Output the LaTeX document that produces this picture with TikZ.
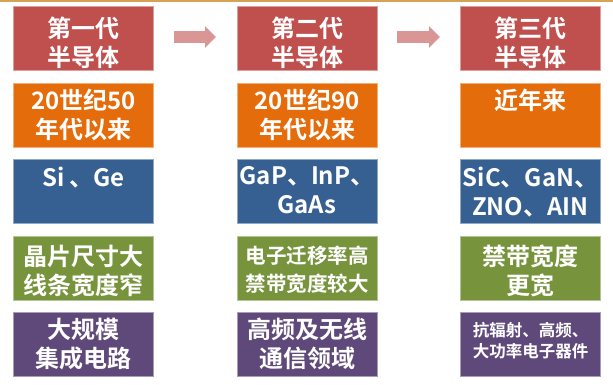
\documentclass[tikz,border=0pt]{standalone}
\usepackage{fontspec}
\setmainfont{Noto Sans CJK SC}[BoldFont={Noto Sans CJK SC Bold}]
\definecolor{cred}{HTML}{C0504D}
\definecolor{corange}{HTML}{E46C0A}
\definecolor{cblue}{HTML}{376092}
\definecolor{cgreen}{HTML}{77933C}
\definecolor{cpurple}{HTML}{5F497A}
\definecolor{carrow}{HTML}{D99694}
\definecolor{ctop}{HTML}{D6A256}
\usetikzlibrary{arrows.meta}
\tikzset{
  box/.style={draw=#1!55!white, fill=#1, line width=0.8pt, minimum width=140pt, minimum height=64pt, inner sep=0pt},
  txt/.style={text=white, font=\bfseries\fontsize{24}{29}\selectfont, align=center, anchor=north, inner sep=0pt},
  txtm/.style={txt, font=\bfseries\fontsize{20.5}{28}\selectfont},
  txts/.style={txt, font=\bfseries\fontsize{16.5}{21}\selectfont},
  flow/.style={carrow, line width=12pt, -{Triangle[length=11pt,width=21pt]}},
}
\begin{document}
\begin{tikzpicture}[x=1pt,y=-1pt]
\useasboundingbox (0,0) rectangle (613,385);
\fill[ctop] (0,0) rectangle (613,2.5);
\foreach \c/\x in {a/83.5,b/307,c/530.5}{
  \node[box=cred]    (\c1) at (\x,38)  {};
  \node[box=corange] (\c2) at (\x,115) {};
  \node[box=cblue]   (\c3) at (\x,191) {};
  \node[box=cgreen]  (\c4) at (\x,268) {};
  \node[box=cpurple] (\c5) at (\x,344.5) {};
}
% column 1
\node[txt] (ta1) at ([yshift=-11pt]a1.north) {第一代\\半导体};
\node[txt] (ta2) at ([yshift=-6pt]a2.north) {20世纪50\\年代以来};
\node[txt] (ta3) at ([yshift=-8pt]a3.north) {Si 、Ge};
\node[txt] (ta4) at ([yshift=-9pt]a4.north) {晶片尺寸大\\线条宽度窄};
\node[txt] (ta5) at ([yshift=-6pt]a5.north) {大规模\\集成电路};
% column 2
\node[txt] (tb1) at ([yshift=-11pt]b1.north) {第二代\\半导体};
\node[txt] (tb2) at ([yshift=-6pt]b2.north) {20世纪90\\年代以来};
\node[txt] (tb3) at ([yshift=-8pt]b3.north) {GaP、InP、\\GaAs};
\node[txtm] (tb4) at ([yshift=-10pt]b4.north) {电子迁移率高\\禁带宽度较大};
\node[txt] (tb5) at ([yshift=-6pt]b5.north) {高频及无线\\通信领域};
% column 3
\node[txt] (tc1) at ([yshift=-11pt]c1.north) {第三代\\半导体};
\node[txt] (tc2) at ([yshift=-6pt]c2.north) {近年来};
\node[txt] (tc3) at ([yshift=-8pt]c3.north) {SiC、GaN、\\ZNO、AIN};
\node[txt] (tc4) at ([yshift=-9pt]c4.north) {禁带宽度\\更宽};
\node[txts] (tc5) at ([yshift=-10pt]c5.north) {抗辐射、高频、\\大功率电子器件};
% arrows
\coordinate (p1) at (174,37);
\coordinate (q1) at (216,37);
\coordinate (p2) at (397,37);
\coordinate (q2) at (440,37);
\draw[flow] (p1) -- (q1);
\draw[flow] (p2) -- (q2);
\end{tikzpicture}
\end{document}
